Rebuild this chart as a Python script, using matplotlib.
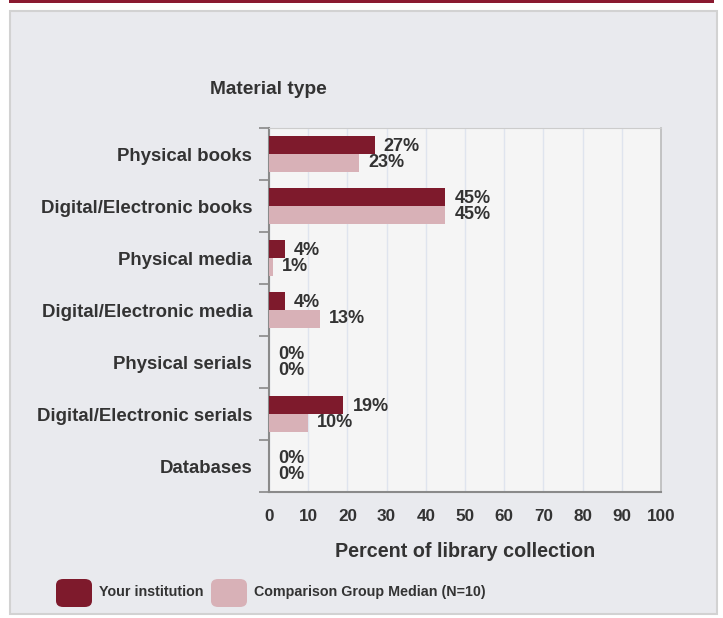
import matplotlib
matplotlib.use("Agg")
import matplotlib.pyplot as plt
from matplotlib.patches import Rectangle, FancyBboxPatch
import numpy as np

plt.rcParams['font.family'] = ['Liberation Sans', 'DejaVu Sans']

categories = ["Physical books", "Digital/Electronic books", "Physical media",
              "Digital/Electronic media", "Physical serials",
              "Digital/Electronic serials", "Databases"]
your_inst = [27, 45, 4, 4, 0, 19, 0]
comparison = [23, 45, 1, 13, 0, 10, 0]
xticks = [0, 10, 20, 30, 40, 50, 60, 70, 80, 90, 100]
series_names = ["Your institution", "Comparison Group Median (N=10)"]

DARK = "#7e1a2c"
LIGHT = "#d8b1b7"
TXT = "#333333"

W, H = 723, 618
fig = plt.figure(figsize=(W/100, H/100), dpi=100)
fig.patch.set_facecolor("white")

def fx(x): return x / W
def fy(y): return 1 - y / H

# top band
fig.patches.append(Rectangle((fx(9), fy(3)), fx(714) - fx(9), fy(0) - fy(3),
                             transform=fig.transFigure, facecolor="#8a1a30",
                             edgecolor="none", zorder=0))
# panel
fig.patches.append(Rectangle((fx(10), fy(614)), fx(717) - fx(10), fy(11) - fy(614),
                             transform=fig.transFigure, facecolor="#e9eaee",
                             edgecolor="#d2d2d2", linewidth=1.5, zorder=0))

ax = fig.add_axes([fx(269), fy(492), fx(661) - fx(269), fy(128) - fy(492)])
ax.set_zorder(5)
ax.set_facecolor("#f5f5f5")

n = len(categories)
y = np.arange(n)
bh = 0.355
ax.barh(y - bh/2, your_inst, height=bh, color=DARK, zorder=3)
ax.barh(y + bh/2, comparison, height=bh, color=LIGHT, zorder=3)

for i in range(n):
    ax.annotate(f"{your_inst[i]}%", (your_inst[i], y[i] - bh/2 + 0.04),
                xytext=(6.5, 0), textcoords="offset points", ha="left", va="center",
                fontsize=13, fontweight="bold", color=TXT)
    ax.annotate(f"{comparison[i]}%", (comparison[i], y[i] + bh/2 - 0.01),
                xytext=(6.5, 0), textcoords="offset points", ha="left", va="center",
                fontsize=13, fontweight="bold", color=TXT)

ax.set_xlim(0, 100)
ax.set_ylim(n - 0.5, -0.5)
ax.set_xticks(xticks)
ax.set_xticklabels([str(t) for t in xticks], fontsize=12.3, fontweight="bold", color=TXT)
ax.tick_params(axis="x", length=0, pad=12)
ax.xaxis.grid(True, color="#dfe4ee", linewidth=1, zorder=0)
ax.set_axisbelow(True)

ax.set_yticks(y)
ax.set_yticklabels(categories, fontsize=13.4, fontweight="bold", color=TXT)
ax.set_yticks(np.arange(n + 1) - 0.5, minor=True)
ax.tick_params(axis="y", which="major", length=0, pad=12)
ax.tick_params(axis="y", which="minor", length=7, width=1.2, color="#888888")

ax.spines["left"].set_color("#8a8a8a")
ax.spines["left"].set_linewidth(1.5)
ax.spines["bottom"].set_color("#8a8a8a")
ax.spines["bottom"].set_linewidth(1.5)
ax.spines["top"].set_color("#cccccc")
ax.spines["right"].set_color("#bbbbbb")
ax.spines["right"].set_linewidth(1.2)

ax.set_xlabel("Percent of library collection", fontsize=14.2, fontweight="bold",
              color=TXT, labelpad=13.5)

fig.text(fx(268), fy(89), "Material type", ha="center", va="center",
         fontsize=13.8, fontweight="bold", color=TXT)

# legend
def legend_item(x0, color, label):
    fig.patches.append(FancyBboxPatch((fx(x0), fy(607)), fx(36), fy(579) - fy(607),
                                      boxstyle="round,pad=0,rounding_size=0.01",
                                      transform=fig.transFigure, facecolor=color,
                                      edgecolor="none", zorder=2))
    fig.text(fx(x0 + 43), fy(592), label, ha="left", va="center",
             fontsize=10.3, fontweight="bold", color=TXT)

legend_item(56, DARK, series_names[0])
legend_item(211, LIGHT, series_names[1])

fig.savefig("out.png", dpi=100)
